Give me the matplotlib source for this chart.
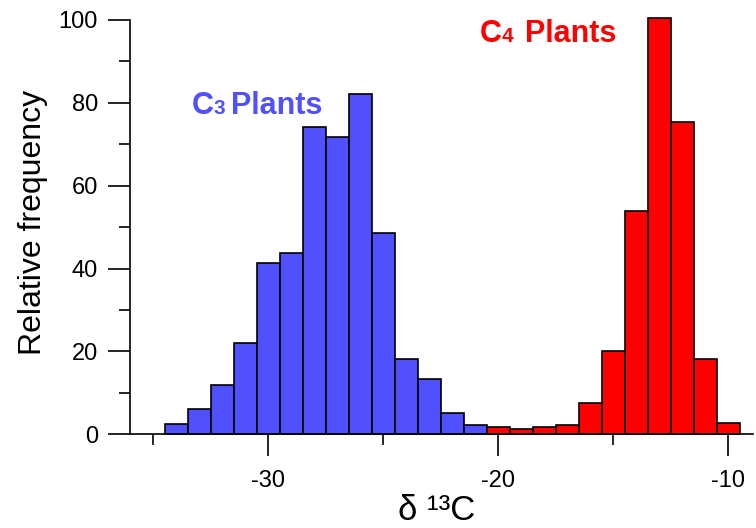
import matplotlib
matplotlib.use('Agg')
import matplotlib.pyplot as plt
from matplotlib.ticker import MultipleLocator

# bin centres (per mil) and relative frequency
c3_centres = [-34, -33, -32, -31, -30, -29, -28, -27, -26, -25, -24, -23, -22, -21]
c3_freq = [2.4, 6.1, 11.9, 22.0, 41.4, 43.8, 74.1, 71.8, 82.1, 48.6, 18.2, 13.3, 5.1, 2.2]
c4_centres = [-20, -19, -18, -17, -16, -15, -14, -13, -12, -11, -10]
c4_freq = [1.8, 1.2, 1.8, 2.2, 7.6, 20.2, 53.9, 100.6, 75.5, 18.2, 2.7]

blue = '#5050ff'
red = '#ff0000'

plt.rcParams['font.family'] = ['Liberation Sans', 'DejaVu Sans']

W, H = 756, 528
fig = plt.figure(figsize=(W / 100, H / 100), dpi=100)
ax = fig.add_axes([130 / W, 1 - 434.3 / H, (753 - 130) / W, (434.3 - 20) / H])

ax.bar(c3_centres, c3_freq, width=1, color=blue, edgecolor='black', linewidth=1.2, clip_on=False)
ax.bar(c4_centres, c4_freq, width=1, color=red, edgecolor='black', linewidth=1.2, clip_on=False)

ax.set_xlim(-36, -8.93)
ax.set_ylim(0, 100)
for s in ['top', 'right']:
    ax.spines[s].set_visible(False)
for s in ['left', 'bottom']:
    ax.spines[s].set_linewidth(1.2)

ax.xaxis.set_major_locator(MultipleLocator(10))
ax.xaxis.set_minor_locator(MultipleLocator(5))
ax.yaxis.set_major_locator(MultipleLocator(20))
ax.yaxis.set_minor_locator(MultipleLocator(10))
ax.tick_params(which='major', direction='out', length=16, width=1.2, labelsize=17)
ax.tick_params(which='minor', direction='out', length=8, width=1.2)
ax.tick_params(axis='y', which='major', pad=7)
ax.tick_params(axis='x', which='major', pad=10)
ax.set_xticks([-30, -20, -10])
ax.set_xticklabels(['-30', '-20', '-10'])


def px(x, y):
    return x / W, 1 - y / H


def plant_label(x_c, x_sub, x_p, base, sub, colour):
    fig.text(*px(x_c, base), 'C', color=colour, fontsize=22, fontweight='bold', va='baseline')
    fig.text(*px(x_sub, base), sub, color=colour, fontsize=15, fontweight='bold', va='baseline')
    fig.text(*px(x_p, base), 'Plants', color=colour, fontsize=22, fontweight='bold', va='baseline')


plant_label(192, 214, 231, 114, '3', blue)
plant_label(480, 502, 525, 42, '4', red)

fig.text(*px(33, 222), 'Relative frequency', rotation=90, fontsize=23, ha='center', va='center')
fig.text(*px(437, 520), 'δ ¹³C', fontsize=25, ha='center', va='baseline')

fig.savefig('out.png', dpi=100)
